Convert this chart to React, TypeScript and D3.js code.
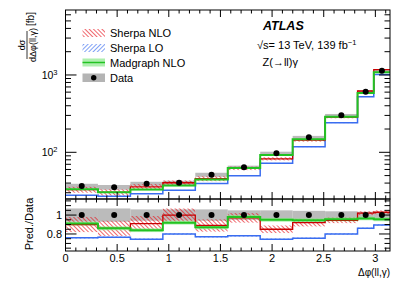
import * as d3 from "d3";

// bin edges in units of pi
const binEdges = [0, 0.1, 0.2, 0.3, 0.4, 0.5, 0.6, 0.7, 0.8, 0.9, 0.95, 1.0];
const dataValues = [36.6, 35.3, 39.2, 40.4, 51.3, 64, 97, 156, 301, 608, 1137];
const dataErr = [0.07, 0.07, 0.06, 0.06, 0.06, 0.05, 0.05, 0.045, 0.04, 0.035, 0.035];

// ratios Pred./Data
const sherpaNLO = [0.9, 0.86, 0.91, 1.0, 0.89, 0.97, 0.85, 0.92, 0.945, 1.02, 1.03];
const sherpaNLOErr = [0.08, 0.08, 0.08, 0.07, 0.065, 0.05, 0.04, 0.04, 0.03, 0.02, 0.02];
const sherpaLO = [0.76, 0.765, 0.745, 0.8, 0.77, 0.78, 0.745, 0.755, 0.8, 0.86, 0.895];
const sherpaLOErr = [0.008, 0.008, 0.008, 0.008, 0.008, 0.008, 0.008, 0.008, 0.008, 0.008, 0.008];
const madgraph = [0.91, 0.86, 0.84, 0.92, 0.87, 0.98, 0.95, 0.945, 0.955, 0.965, 0.955];
const madgraphErr = [0.02, 0.02, 0.02, 0.02, 0.02, 0.02, 0.02, 0.02, 0.02, 0.02, 0.02];

const xMajor = [0, 0.5, 1, 1.5, 2, 2.5, 3];
const ratioMajor = [0.8, 1];

const RED = "#e8141c";
const DARKRED = "#c80000";
const BLUE = "#3a6df0";
const GREEN = "#22c322";
const FONT = "Liberation Sans, Arial, sans-serif";

const W = 411;
const H = 284;
const left = 65.5;
const right = 390;
const mainTop = 10;
const mainBottom = 199;
const ratioTop = 199;
const ratioBottom = 251;

export default function App() {
  const edges = binEdges.map((e) => e * Math.PI);
  const x = d3.scaleLinear().domain([0, Math.PI]).range([left, right]);
  const y = d3.scaleLog().domain([24.9, 6920]).range([mainBottom, mainTop]);
  const yr = d3.scaleLinear().domain([0.62, 1.17]).range([ratioBottom, ratioTop]);

  const stepPath = (vals: number[], sc: (v: number) => number) => {
    const pts: [number, number][] = vals.map((v, i) => [edges[i], v]);
    pts.push([edges[vals.length], vals[vals.length - 1]]);
    return d3
      .line<[number, number]>()
      .x((d) => x(d[0]))
      .y((d) => sc(d[1]))
      .curve(d3.curveStepAfter)(pts) as string;
  };

  const bandRects = (
    lo: number[],
    hi: number[],
    sc: (v: number) => number,
    fill: string,
    key: string,
    opacity = 1
  ) =>
    lo.map((l, i) => (
      <rect
        key={`${key}-${i}`}
        x={x(edges[i])}
        width={x(edges[i + 1]) - x(edges[i])}
        y={sc(hi[i])}
        height={Math.max(0.5, sc(l) - sc(hi[i]))}
        fill={fill}
        opacity={opacity}
      />
    ));

  const centers = dataValues.map((_, i) => (edges[i] + edges[i + 1]) / 2);

  // main panel values
  const pred = (r: number[]) => r.map((v, i) => v * dataValues[i]);
  const predLo = (r: number[], e: number[]) => r.map((v, i) => (v - e[i]) * dataValues[i]);
  const predHi = (r: number[], e: number[]) => r.map((v, i) => (v + e[i]) * dataValues[i]);
  const ratioLo = (r: number[], e: number[]) => r.map((v, i) => v - e[i]);
  const ratioHi = (r: number[], e: number[]) => r.map((v, i) => v + e[i]);

  const logTicks: number[] = [];
  [10, 100, 1000].forEach((d) => {
    for (let k = 1; k <= 9; k++) {
      const v = k * d;
      if (v >= 24.9 && v <= 6920) logTicks.push(v);
    }
  });
  const xMinor = d3.range(0, 3.15, 0.1);
  const ratioMinor = d3.range(0.65, 1.16, 0.05);

  const panel = (top: number, bottom: number) => (
    <rect x={left} y={top} width={right - left} height={bottom - top} fill="none" stroke="#000" strokeWidth={1} />
  );

  const xTicks = (top: number, bottom: number, key: string) => (
    <g key={key} stroke="#000" strokeWidth={1}>
      {xMinor.map((t, i) => {
        const major = xMajor.some((m) => Math.abs(m - t) < 1e-6);
        const len = major ? 7 : 3.5;
        return (
          <g key={i}>
            <line x1={x(t)} x2={x(t)} y1={bottom} y2={bottom - len} />
            <line x1={x(t)} x2={x(t)} y1={top} y2={top + len} />
          </g>
        );
      })}
    </g>
  );

  return (
    <svg width={W} height={H} style={{ position: "absolute", left: 0, top: 0, background: "#fff" }} fontFamily={FONT}>
      <defs>
        <pattern id="hatchRed" width="3" height="3" patternUnits="userSpaceOnUse" patternTransform="rotate(-45)">
          <line x1="0" y1="0" x2="0" y2="3" stroke={RED} strokeWidth="1.3" />
        </pattern>
        <pattern id="hatchBlue" width="3" height="3" patternUnits="userSpaceOnUse" patternTransform="rotate(45)">
          <line x1="0" y1="0" x2="0" y2="3" stroke={BLUE} strokeWidth="1.3" />
        </pattern>
        <clipPath id="clipMain">
          <rect x={left} y={mainTop} width={right - left} height={mainBottom - mainTop} />
        </clipPath>
        <clipPath id="clipRatio">
          <rect x={left} y={ratioTop} width={right - left} height={ratioBottom - ratioTop} />
        </clipPath>
      </defs>

      {/* main panel */}
      <g clipPath="url(#clipMain)">
        {bandRects(
          dataValues.map((v, i) => v * (1 - dataErr[i])),
          dataValues.map((v, i) => v * (1 + dataErr[i])),
          y,
          "#b4b4b4",
          "dg",
          0.9
        )}
        {bandRects(predLo(sherpaNLO, sherpaNLOErr), predHi(sherpaNLO, sherpaNLOErr), y, "url(#hatchRed)", "rh")}
        {bandRects(predLo(madgraph, madgraphErr), predHi(madgraph, madgraphErr), y, "#8be88b", "gb", 0.7)}
        {bandRects(predLo(sherpaLO, sherpaLOErr), predHi(sherpaLO, sherpaLOErr), y, "url(#hatchBlue)", "bh")}
        <path d={stepPath(pred(sherpaLO), y)} fill="none" stroke={BLUE} strokeWidth={1.5} />
        <path d={stepPath(pred(sherpaNLO), y)} fill="none" stroke={DARKRED} strokeWidth={1.3} />
        <path d={stepPath(pred(madgraph), y)} fill="none" stroke={GREEN} strokeWidth={2} />
        {dataValues.map((v, i) => (
          <circle key={i} cx={x(centers[i])} cy={y(v)} r={3} fill="#000" />
        ))}
      </g>
      {panel(mainTop, mainBottom)}
      {xTicks(mainTop, mainBottom, "xm")}
      <g stroke="#000" strokeWidth={1}>
        {logTicks.map((t, i) => {
          const major = t === 100 || t === 1000;
          const len = major ? 11 : 5.5;
          return (
            <g key={i}>
              <line x1={left} x2={left + len} y1={y(t)} y2={y(t)} />
              <line x1={right} x2={right - len} y1={y(t)} y2={y(t)} />
            </g>
          );
        })}
      </g>
      {[100, 1000].map((t) => (
        <text key={t} x={57.5} y={y(t) + 4} fontSize={10.5} textAnchor="end">
          10<tspan dy={-4} fontSize={7.5}>{Math.round(Math.log10(t))}</tspan>
        </text>
      ))}

      {/* y title */}
      <g transform="rotate(-90)" fontSize={9}>
        <text x={-45} y={25} textAnchor="middle">dσ</text>
        <line x1={-59} x2={-31} y1={27} y2={27} stroke="#000" strokeWidth={0.8} />
        <text x={-45} y={36} textAnchor="middle">dΔφ(ll,γ)</text>
        <text x={-19} y={34} textAnchor="middle" fontSize={10}>[fb]</text>
      </g>

      {/* legend */}
      <g fontSize={11}>
        <rect x={82.5} y={29} width={22.5} height={8} fill="url(#hatchRed)" />
        <text x={110} y={36.5}>Sherpa NLO</text>
        <rect x={82.5} y={44} width={22.5} height={8} fill="url(#hatchBlue)" />
        <text x={110} y={51.5}>Sherpa LO</text>
        <rect x={82.5} y={58.5} width={22.5} height={8} fill="#8be88b" opacity={0.7} />
        <line x1={82.5} x2={105} y1={62.5} y2={62.5} stroke={GREEN} strokeWidth={1.5} />
        <text x={110} y={66.5}>Madgraph NLO</text>
        <rect x={82.5} y={73.5} width={22.5} height={8.5} fill="#b4b4b4" />
        <circle cx={93.7} cy={77.7} r={2.7} fill="#000" />
        <text x={110} y={82}>Data</text>
      </g>

      {/* ATLAS label */}
      <text x={263} y={29.5} fontSize={12.5} fontWeight="bold" fontStyle="italic">ATLAS</text>
      <text x={257} y={49} fontSize={11}>
        √s= 13 TeV, 139 fb<tspan dy={-4} fontSize={7.5}>−1</tspan>
      </text>
      <text x={262.5} y={66} fontSize={11}>Z(→ll)γ</text>

      {/* ratio panel */}
      <g clipPath="url(#clipRatio)">
        {bandRects(
          dataErr.map((e) => 1 - e),
          dataErr.map((e) => 1 + e),
          yr,
          "#b4b4b4",
          "rdg",
          0.9
        )}
        {bandRects(ratioLo(sherpaNLO, sherpaNLOErr), ratioHi(sherpaNLO, sherpaNLOErr), yr, "url(#hatchRed)", "rrh")}
        {bandRects(ratioLo(madgraph, madgraphErr), ratioHi(madgraph, madgraphErr), yr, "#8be88b", "rgb", 0.7)}
        {bandRects(ratioLo(sherpaLO, sherpaLOErr), ratioHi(sherpaLO, sherpaLOErr), yr, "url(#hatchBlue)", "rbh")}
        <path d={stepPath(sherpaLO, yr)} fill="none" stroke={BLUE} strokeWidth={1.5} />
        <path d={stepPath(sherpaNLO, yr)} fill="none" stroke={DARKRED} strokeWidth={1.3} />
        <path d={stepPath(madgraph, yr)} fill="none" stroke={GREEN} strokeWidth={2} />
        {centers.map((c, i) => (
          <circle key={i} cx={x(c)} cy={yr(1)} r={3} fill="#000" />
        ))}
      </g>
      {panel(ratioTop, ratioBottom)}
      {xTicks(ratioTop, ratioBottom, "xr")}
      <g stroke="#000" strokeWidth={1}>
        {ratioMinor.map((t, i) => {
          const major = ratioMajor.some((m) => Math.abs(m - t) < 1e-6);
          const len = major ? 11 : 5.5;
          return (
            <g key={i}>
              <line x1={left} x2={left + len} y1={yr(t)} y2={yr(t)} />
              <line x1={right} x2={right - len} y1={yr(t)} y2={yr(t)} />
            </g>
          );
        })}
      </g>
      {ratioMajor.map((t) => (
        <text key={t} x={62} y={yr(t) + 4} fontSize={11} textAnchor="end">
          {t === 1 ? "1" : t.toString()}
        </text>
      ))}
      <text transform="rotate(-90)" x={-224} y={33} fontSize={11} textAnchor="middle">Pred./Data</text>

      {xMajor.map((t) => (
        <text key={t} x={x(t)} y={262} fontSize={11} textAnchor="middle">
          {t}
        </text>
      ))}
      <text x={390} y={276} fontSize={10} textAnchor="end">Δφ(ll,γ)</text>
    </svg>
  );
}
